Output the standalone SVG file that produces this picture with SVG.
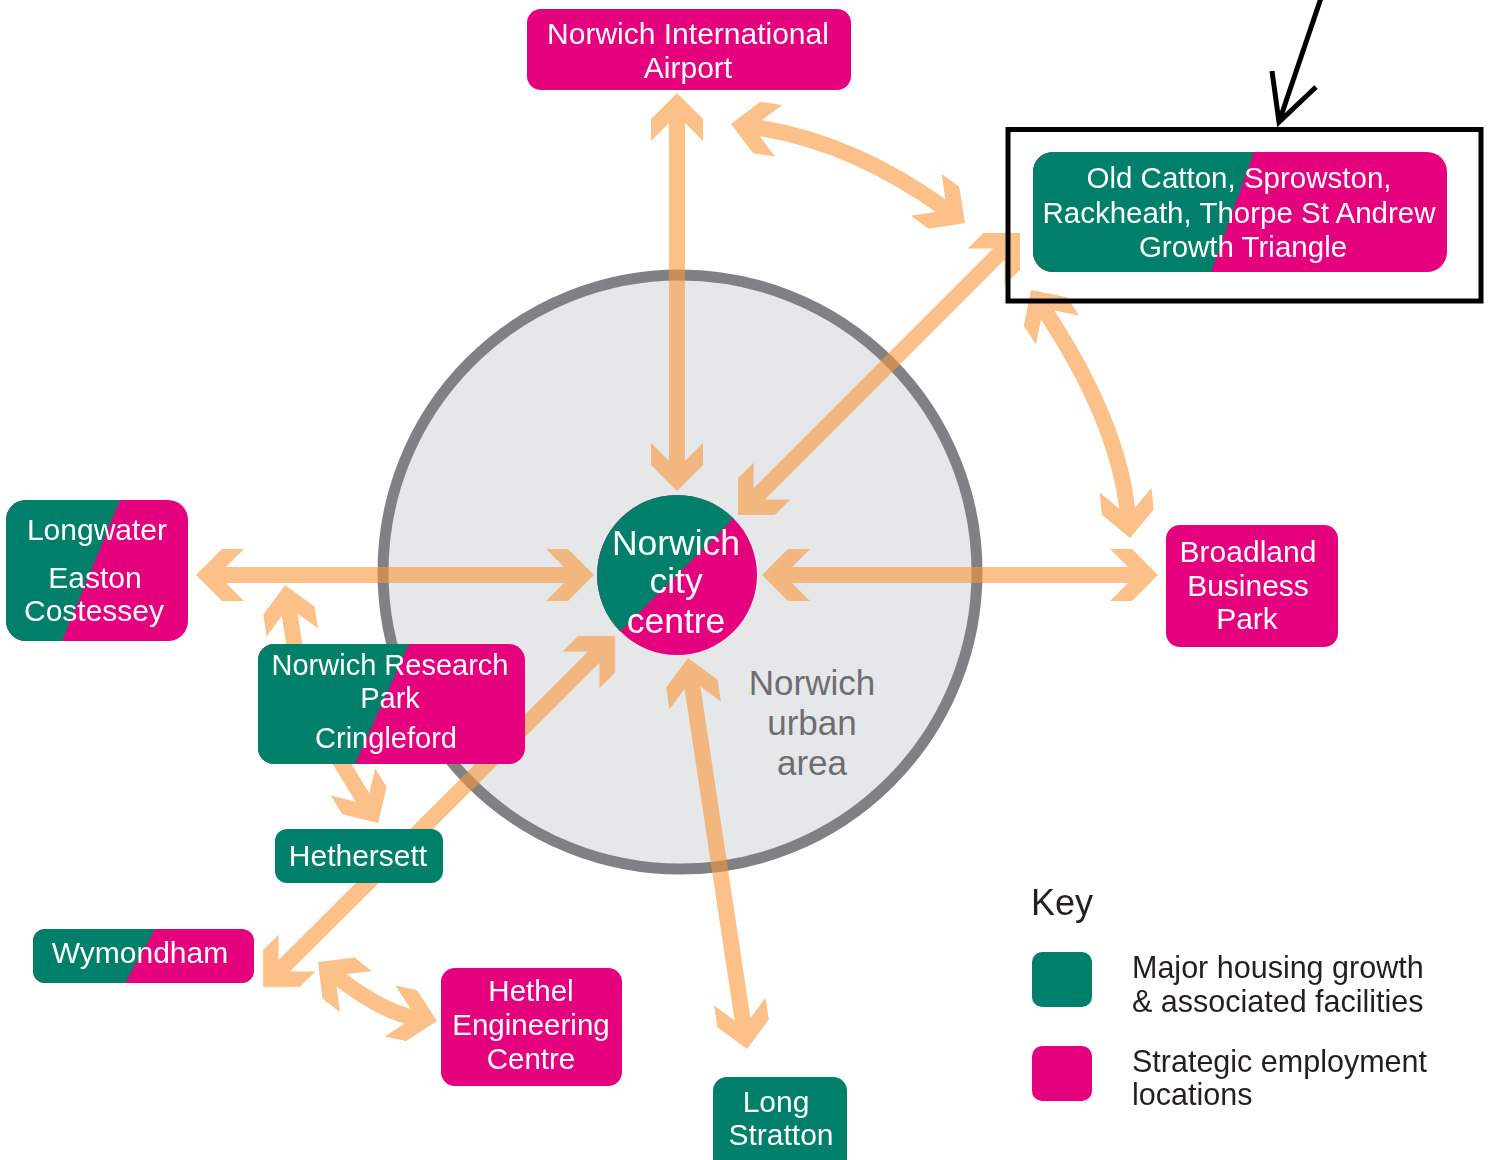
<svg xmlns="http://www.w3.org/2000/svg" xmlns:xlink="http://www.w3.org/1999/xlink" width="1489" height="1160" viewBox="0 0 1489 1160">
<style>
.arr{opacity:.6;fill:#FA983A;stroke:none}
.arr path{fill:none;stroke:#FA983A;stroke-width:16}
.g{fill:#00806B}
.m{fill:#E5007D}
.lbl{font-family:"Liberation Sans",Arial,sans-serif;fill:#fff;text-anchor:middle;font-size:30px}
.urb{font-family:"Liberation Sans",Arial,sans-serif;fill:#6D6E71;text-anchor:middle;font-size:35px}
.key{font-family:"Liberation Sans",Arial,sans-serif;fill:#231F20;font-size:30.5px}
</style>
<defs>
<polygon id="chev" points="0,0 -26,-26 -48,-26 -22,0 -48,26 -26,26"/>
</defs>
<rect width="1489" height="1160" fill="#fff"/>

<g id="urban-area">
<circle cx="680" cy="572" r="297" fill="#E6E7E8" stroke="#808184" stroke-width="11"/>
<text class="urb" x="812" y="695">Norwich</text>
<text class="urb" x="812" y="735">urban</text>
<text class="urb" x="812" y="775">area</text>
</g>

<g id="connectors">
<g class="arr"><path d="M677,111 V473"/><use xlink:href="#chev" transform="translate(677,93) rotate(-90)"/><use xlink:href="#chev" transform="translate(677,491) rotate(90)"/></g>
<g class="arr"><path d="M753,127 Q850.5,140.4 947,210"/><use xlink:href="#chev" transform="translate(731,124) rotate(-172)"/><use xlink:href="#chev" transform="translate(965,223) rotate(36)"/></g>
<g class="arr"><path d="M752,501 L1006,247"/><use xlink:href="#chev" transform="translate(1020,233) rotate(-45)"/><use xlink:href="#chev" transform="translate(738,515) rotate(135)"/></g>
<g class="arr"><path d="M1043,308 Q1119.5,422.6 1128,516"/><use xlink:href="#chev" transform="translate(1031,290) rotate(-123.7)"/><use xlink:href="#chev" transform="translate(1130,538) rotate(84.8)"/></g>
<g class="arr"><path d="M214,575 H576"/><use xlink:href="#chev" transform="translate(196,575) rotate(180)"/><use xlink:href="#chev" transform="translate(594,575)"/></g>
<g class="arr"><path d="M780,575 H1140"/><use xlink:href="#chev" transform="translate(762,575) rotate(180)"/><use xlink:href="#chev" transform="translate(1158,575)"/></g>
<g class="arr"><path d="M691,677.8 L744,1029.2"/><use xlink:href="#chev" transform="translate(688,658) rotate(-98.6)"/><use xlink:href="#chev" transform="translate(747,1049) rotate(81.4)"/></g>
<g class="arr"><path d="M277,973 L601,650"/><use xlink:href="#chev" transform="translate(615,636) rotate(-45)"/><use xlink:href="#chev" transform="translate(263,987) rotate(135)"/></g>
<g class="arr"><path d="M296,655 L288.1,604.8"/><use xlink:href="#chev" transform="translate(285,585) rotate(-98.8)"/></g>
<g class="arr"><path d="M339.5,759.8 L367.6,805.9"/><use xlink:href="#chev" transform="translate(378,823) rotate(58.6)"/></g>
<g class="arr"><path d="M336,976 Q380,1011 415,1018"/><use xlink:href="#chev" transform="translate(318,962) rotate(-142)"/><use xlink:href="#chev" transform="translate(437,1021) rotate(12)"/></g>
</g>

<g id="city-centre">
<circle cx="677" cy="575" r="80" class="m"/>
<path class="g" d="M620.4,631.6 A80,80 0 0 1 733.6,518.4 Z"/>
<text class="lbl" style="font-size:35.5px" x="676" y="555">Norwich</text>
<text class="lbl" style="font-size:35.5px" x="676" y="593">city</text>
<text class="lbl" style="font-size:35.5px" x="676" y="633">centre</text>
</g>

<g id="airport">
<rect class="m" x="527" y="9" width="324" height="81" rx="14"/>
<text class="lbl" x="688" y="44">Norwich International</text>
<text class="lbl" x="688" y="78">Airport</text>
</g>

<g id="growth-triangle">
<rect class="m" x="1033" y="152" width="414" height="120" rx="20"/>
<path class="g" d="M1053,152 H1254 L1211,272 H1053 A20,20 0 0 1 1033,252 V172 A20,20 0 0 1 1053,152 Z"/>
<text class="lbl" style="font-size:29.5px" x="1239" y="188">Old Catton, Sprowston,</text>
<text class="lbl" style="font-size:29.5px" x="1239" y="223">Rackheath, Thorpe St Andrew</text>
<text class="lbl" style="font-size:29.5px" x="1243" y="257">Growth Triangle</text>
</g>

<g id="longwater">
<rect class="m" x="6" y="500" width="182" height="141" rx="20"/>
<path class="g" d="M26,500 H120 L62,641 H26 A20,20 0 0 1 6,621 V520 A20,20 0 0 1 26,500 Z"/>
<text class="lbl" x="97" y="540">Longwater</text>
<text class="lbl" x="95" y="588">Easton</text>
<text class="lbl" x="94" y="621">Costessey</text>
</g>

<g id="research-park">
<rect class="m" x="258" y="644" width="267" height="120" rx="16"/>
<path class="g" d="M274,644 H409 L355,764 H274 A16,16 0 0 1 258,748 V660 A16,16 0 0 1 274,644 Z"/>
<text class="lbl" style="font-size:29px" x="390" y="675">Norwich Research</text>
<text class="lbl" style="font-size:29px" x="390" y="708">Park</text>
<text class="lbl" style="font-size:29px" x="386" y="748">Cringleford</text>
</g>

<g id="hethersett">
<rect class="g" x="275" y="829" width="168" height="54" rx="12"/>
<text class="lbl" x="358" y="866">Hethersett</text>
</g>

<g id="wymondham">
<rect class="m" x="33" y="929" width="221" height="54" rx="12"/>
<path class="g" d="M45,929 H155 L125,983 H45 A12,12 0 0 1 33,971 V941 A12,12 0 0 1 45,929 Z"/>
<text class="lbl" x="140" y="963">Wymondham</text>
</g>

<g id="hethel">
<rect class="m" x="441" y="968" width="181" height="118" rx="14"/>
<text class="lbl" style="font-size:29.5px" x="531" y="1001">Hethel</text>
<text class="lbl" style="font-size:29.5px" x="531" y="1035">Engineering</text>
<text class="lbl" style="font-size:29.5px" x="531" y="1069">Centre</text>
</g>

<g id="long-stratton">
<rect class="g" x="713" y="1077" width="134" height="100" rx="14"/>
<text class="lbl" x="776" y="1112">Long</text>
<text class="lbl" x="781" y="1145">Stratton</text>
</g>

<g id="broadland">
<rect class="m" x="1166" y="525" width="172" height="122" rx="14"/>
<text class="lbl" x="1248" y="562">Broadland</text>
<text class="lbl" x="1248" y="596">Business</text>
<text class="lbl" x="1247" y="629">Park</text>
</g>

<g id="highlight">
<rect x="1008" y="129.5" width="473" height="171.5" fill="none" stroke="#000" stroke-width="5"/>
<path d="M1321,-2 L1279,122 M1272,71 L1279,122 L1316,87" fill="none" stroke="#000" stroke-width="5"/>
</g>

<g id="key">
<text class="key" style="font-size:36px" x="1031" y="915">Key</text>
<rect class="g" x="1032" y="952" width="60" height="55" rx="10"/>
<rect class="m" x="1032" y="1046" width="60" height="55" rx="10"/>
<text class="key" x="1132" y="978">Major housing growth</text>
<text class="key" x="1132" y="1012">&amp; associated facilities</text>
<text class="key" x="1132" y="1072">Strategic employment</text>
<text class="key" x="1132" y="1105">locations</text>
</g>
</svg>
